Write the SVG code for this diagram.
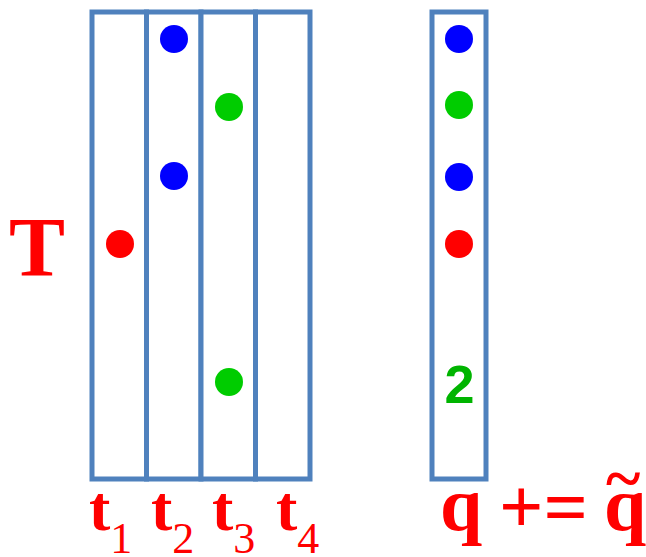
<svg xmlns="http://www.w3.org/2000/svg" width="646" height="557" viewBox="0 0 646 557">
<style>
.col{fill:#fff;stroke:#4F81BD;stroke-width:5}
.lbl{font-family:"Liberation Serif",serif;font-weight:bold;fill:#FF0000}
.sub{font-family:"Liberation Serif",serif;font-weight:normal;fill:#FF0000}
.b{fill:#0000FF}.g{fill:#00CC00}.r{fill:#FF0000}
</style>
<g id="matrixT">
<rect class="col" x="92" y="12" width="54.5" height="467"/>
<rect class="col" x="146.5" y="12" width="54.5" height="467"/>
<rect class="col" x="201" y="12" width="54.5" height="467"/>
<rect class="col" x="255.5" y="12" width="54.5" height="467"/>
</g>
<g id="dotsT">
<circle class="b" cx="174" cy="39" r="14"/>
<circle class="g" cx="229" cy="107" r="14"/>
<circle class="b" cx="174" cy="176" r="14"/>
<circle class="r" cx="120" cy="244" r="14"/>
<circle class="g" cx="229" cy="382" r="14"/>
</g>
<g id="vectorQ">
<rect class="col" x="432" y="12" width="54" height="467"/>
<circle class="b" cx="459" cy="39" r="14"/>
<circle class="g" cx="459" cy="105" r="14"/>
<circle class="b" cx="459" cy="177" r="14"/>
<circle class="r" cx="459" cy="244" r="14"/>
<text x="459.5" y="403" text-anchor="middle" font-family="Liberation Sans,sans-serif" font-weight="bold" font-size="54" fill="#00B400">2</text>
</g>
<g id="labels">
<text class="lbl" x="37" y="276" text-anchor="middle" font-size="84">T</text>
<text x="89" y="530" font-size="64"><tspan class="lbl">t</tspan><tspan class="sub" font-size="44" dy="23">1</tspan></text>
<text x="151" y="530" font-size="64"><tspan class="lbl">t</tspan><tspan class="sub" font-size="44" dy="23">2</tspan></text>
<text x="212" y="530" font-size="64"><tspan class="lbl">t</tspan><tspan class="sub" font-size="44" dy="23">3</tspan></text>
<text x="276" y="530" font-size="64"><tspan class="lbl">t</tspan><tspan class="sub" font-size="44" dy="23">4</tspan></text>
<text class="lbl" x="440" y="530" font-size="76">q</text>
<text class="lbl" x="499" y="533" font-size="78">+=</text>
<text class="lbl" x="604" y="530" font-size="76">q</text>
<text class="lbl" x="606" y="500" font-size="66">~</text>
</g>
</svg>
